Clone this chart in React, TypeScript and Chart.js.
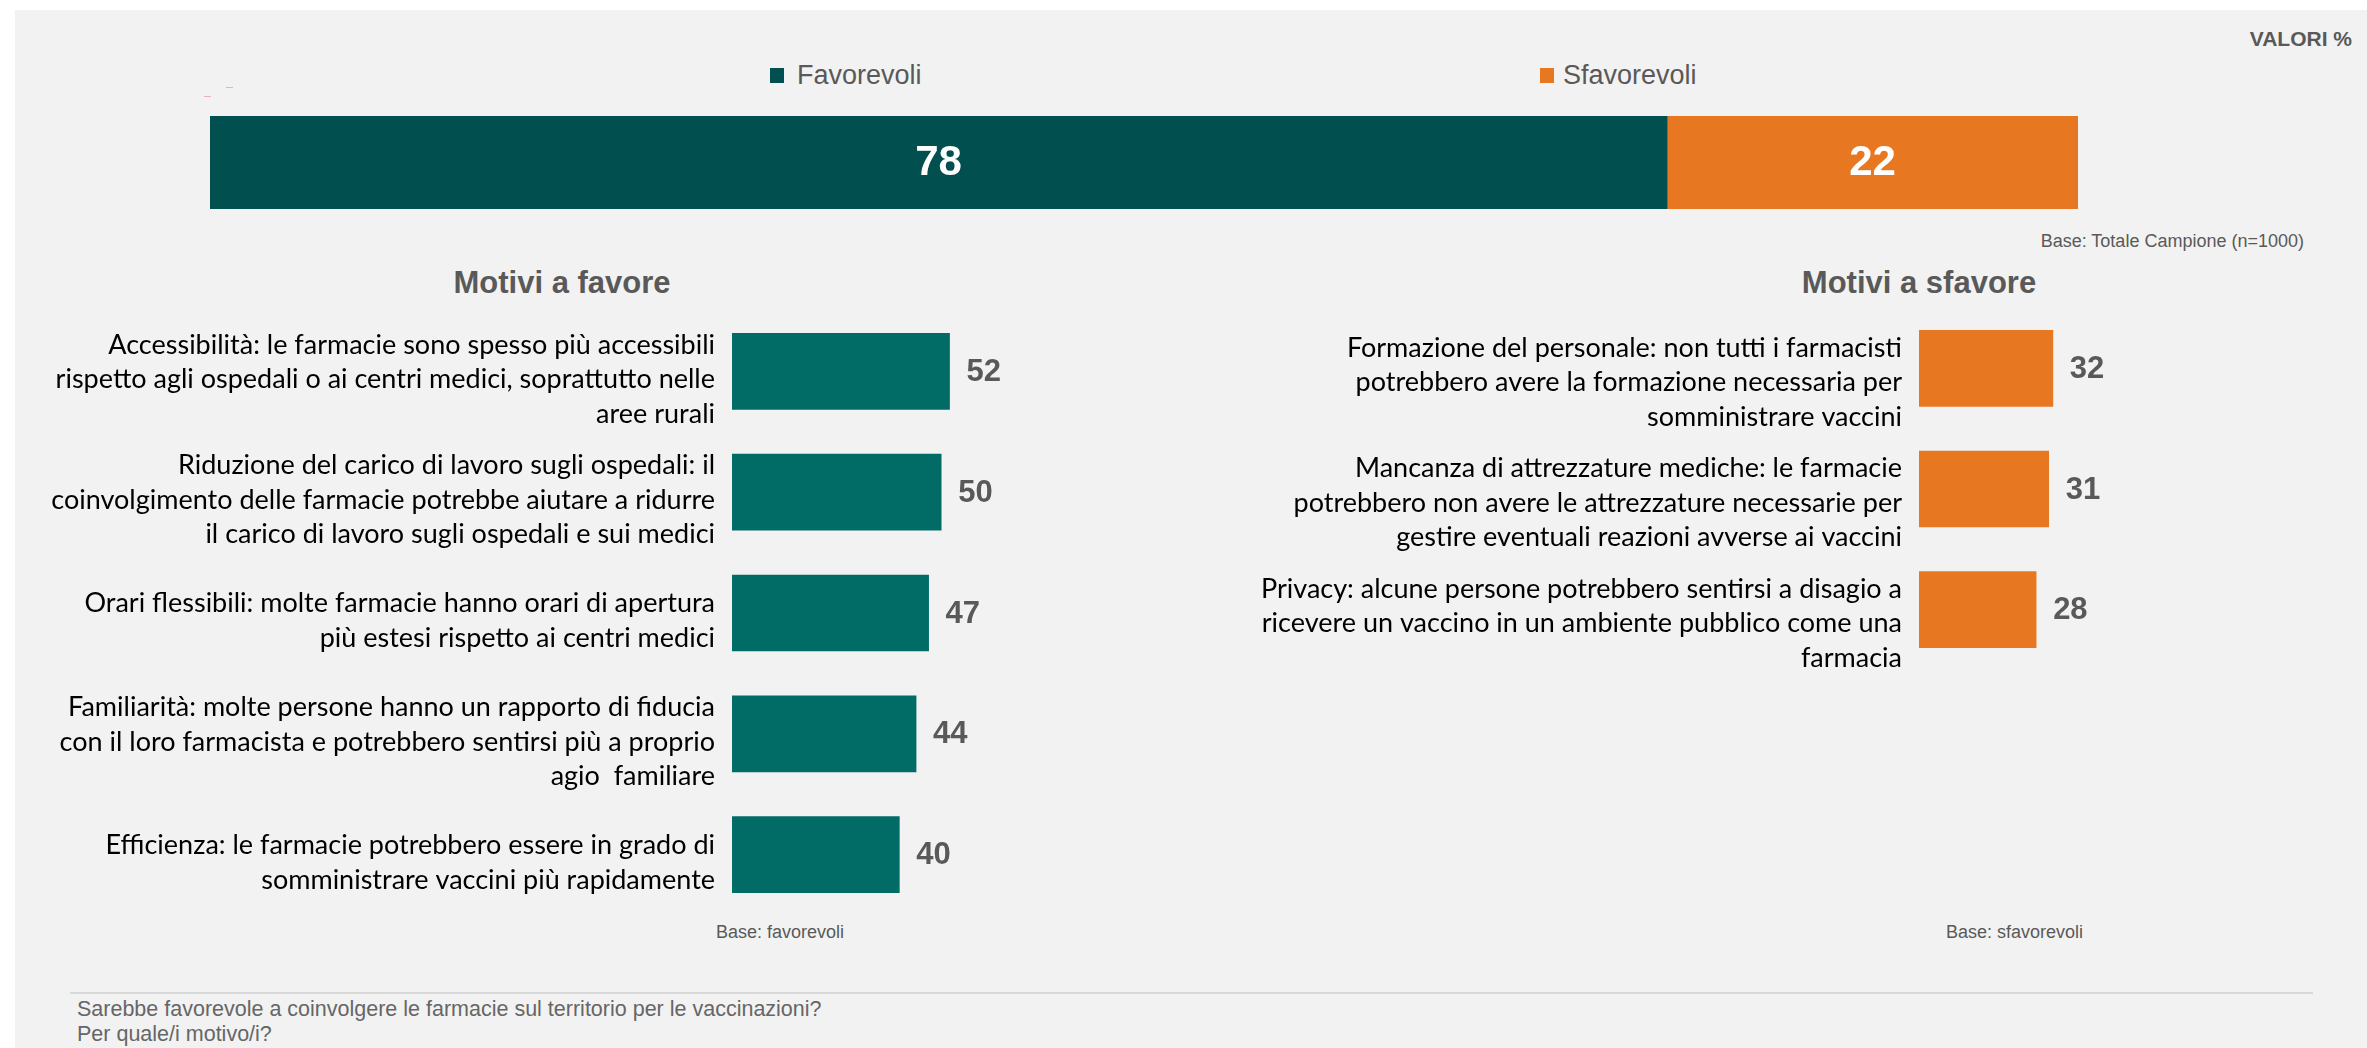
import React, { useEffect, useRef } from "react";
import { Chart, registerables } from "chart.js";

Chart.register(...registerables);

// ---------- DATA ----------
const totalCategories = ["Totale Campione"];
const seriesNames = ["Favorevoli", "Sfavorevoli"];
const favorevoliTotal = [78];
const sfavorevoliTotal = [22];

const favorLabels = [
  ["Accessibilità: le farmacie sono spesso più accessibili", "rispetto agli ospedali o ai centri medici, soprattutto nelle", "aree rurali"],
  ["Riduzione del carico di lavoro sugli ospedali: il", "coinvolgimento delle farmacie potrebbe aiutare a ridurre", "il carico di lavoro sugli ospedali e sui medici"],
  ["Orari flessibili: molte farmacie hanno orari di apertura", "più estesi rispetto ai centri medici"],
  ["Familiarità: molte persone hanno un rapporto di fiducia", "con il loro farmacista e potrebbero sentirsi più a proprio", "agio  familiare"],
  ["Efficienza: le farmacie potrebbero essere in grado di", "somministrare vaccini più rapidamente"],
];
const favorValues = [52, 50, 47, 44, 40];

const sfavorLabels = [
  ["Formazione del personale: non tutti i farmacisti", "potrebbero avere la formazione necessaria per", "somministrare vaccini"],
  ["Mancanza di attrezzature mediche: le farmacie", "potrebbero non avere le attrezzature necessarie per", "gestire eventuali reazioni avverse ai vaccini"],
  ["Privacy: alcune persone potrebbero sentirsi a disagio a", "ricevere un vaccino in un ambiente pubblico come una", "farmacia"],
];
const sfavorValues = [32, 31, 28];

const sideAxisMax = 60;

// ---------- STYLE ----------
const DARK_GREEN = "#014f4f";
const TEAL = "#016b66";
const ORANGE = "#e87722";
const GRAY_TEXT = "#595959";
const SANS = "'Liberation Sans', Arial, sans-serif";
const LABEL_FONT = "Lato";

function insideLabels() {
  return {
    id: "insideLabels",
    afterDatasetsDraw(chart: any) {
      const ctx = chart.ctx;
      ctx.save();
      ctx.font = `bold 42px ${SANS}`;
      ctx.fillStyle = "#ffffff";
      ctx.textAlign = "center";
      ctx.textBaseline = "middle";
      chart.data.datasets.forEach((ds: any, di: number) => {
        const meta = chart.getDatasetMeta(di);
        meta.data.forEach((bar: any, i: number) => {
          const x = (bar.x + bar.base) / 2;
          ctx.fillText(String(ds.data[i]), x, bar.y + 1);
        });
      });
      ctx.restore();
    },
  };
}

function endLabels() {
  return {
    id: "endLabels",
    afterDatasetsDraw(chart: any) {
      const ctx = chart.ctx;
      ctx.save();
      ctx.font = `bold 31px ${SANS}`;
      ctx.fillStyle = GRAY_TEXT;
      ctx.textAlign = "left";
      ctx.textBaseline = "middle";
      chart.data.datasets.forEach((ds: any, di: number) => {
        const meta = chart.getDatasetMeta(di);
        meta.data.forEach((bar: any, i: number) => {
          ctx.fillText(String(ds.data[i]), bar.x + 17, bar.y + 1);
        });
      });
      ctx.restore();
    },
  };
}

function ChartCanvas({ config, left, top, width, height }: any) {
  const ref = useRef<HTMLCanvasElement>(null);
  useEffect(() => {
    if (!ref.current) return;
    const chart = new Chart(ref.current, config());
    return () => chart.destroy();
  }, []);
  return (
    <canvas
      ref={ref}
      width={width}
      height={height}
      style={{ position: "absolute", left, top, width, height }}
    />
  );
}

function sideConfig(labels: string[][], values: number[], color: string, axisWidth: number, labelOffset: number) {
  return () => ({
    type: "bar",
    data: {
      labels,
      datasets: [
        {
          label: "values",
          data: values,
          backgroundColor: color,
          borderWidth: 0,
          barThickness: 76,
        },
      ],
    },
    options: {
      animation: false,
      responsive: false,
      indexAxis: "y",
      layout: { padding: { left: 0, right: 80, top: 0, bottom: 0 } },
      plugins: { legend: { display: false }, tooltip: { enabled: false } },
      scales: {
        x: { display: false, min: 0, max: sideAxisMax },
        y: {
          grid: { display: false, drawTicks: false },
          border: { display: false },
          ticks: {
            color: "#000000",
            padding: 17,
            labelOffset,
            font: { family: LABEL_FONT, size: 27, lineHeight: 34.5 / 27 },
          },
          afterFit(scale: any) {
            scale.width = axisWidth;
            scale.paddingTop = 0;
            scale.paddingBottom = 0;
          },
        },
      },
    },
    plugins: [endLabels()],
  });
}

function topConfig() {
  return {
    type: "bar",
    data: {
      labels: totalCategories,
      datasets: [
        { label: seriesNames[0], data: favorevoliTotal, backgroundColor: DARK_GREEN, borderWidth: 0, barPercentage: 1, categoryPercentage: 1 },
        { label: seriesNames[1], data: sfavorevoliTotal, backgroundColor: ORANGE, borderWidth: 0, barPercentage: 1, categoryPercentage: 1 },
      ],
    },
    options: {
      animation: false,
      responsive: false,
      indexAxis: "y",
      layout: { padding: 0 },
      plugins: { legend: { display: false }, tooltip: { enabled: false } },
      scales: {
        x: { display: false, stacked: true, min: 0, max: 100 },
        y: { display: false, stacked: true },
      },
    },
    plugins: [insideLabels()],
  };
}

const abs = (left: number, top: number, extra: any = {}) => ({
  position: "absolute" as const,
  left,
  top,
  whiteSpace: "nowrap" as const,
  ...extra,
});

export default function App() {
  return (
    <div style={{ position: "absolute", left: 0, top: 0, width: 2367, height: 1048, background: "#ffffff", overflow: "hidden", fontFamily: SANS }}>
      <div style={{ position: "absolute", left: 15, top: 10, width: 2352, height: 1038, background: "#f2f2f2" }} />

      {/* tiny artefacts */}
      <div style={{ position: "absolute", left: 226, top: 87, width: 7, height: 1, background: "#e8b4b0" }} />
      <div style={{ position: "absolute", left: 204, top: 96, width: 7, height: 1, background: "#e8b4b0" }} />

      <div style={abs(2352, 39, { transform: "translate(-100%,-50%)", fontWeight: "bold", fontSize: 21, color: GRAY_TEXT })}>VALORI %</div>

      {/* legend */}
      <div style={{ position: "absolute", left: 770, top: 68, width: 14, height: 15, background: DARK_GREEN }} />
      <div style={abs(797, 75, { transform: "translateY(-50%)", fontSize: 27, color: GRAY_TEXT })}>{seriesNames[0]}</div>
      <div style={{ position: "absolute", left: 1540, top: 68, width: 14, height: 15, background: ORANGE }} />
      <div style={abs(1563, 75, { transform: "translateY(-50%)", fontSize: 27, color: GRAY_TEXT })}>{seriesNames[1]}</div>

      <ChartCanvas config={topConfig} left={210} top={116} width={1868} height={93} />

      <div style={abs(2304, 241, { transform: "translate(-100%,-50%)", fontSize: 18, color: GRAY_TEXT })}>Base: Totale Campione (n=1000)</div>

      <div style={abs(562, 283, { transform: "translate(-50%,-50%)", fontWeight: "bold", fontSize: 31, color: GRAY_TEXT })}>Motivi a favore</div>
      <div style={abs(1919, 283, { transform: "translate(-50%,-50%)", fontWeight: "bold", fontSize: 31, color: GRAY_TEXT })}>Motivi a sfavore</div>

      <ChartCanvas config={sideConfig(favorLabels, favorValues, TEAL, 712, 8)} left={20} top={311} width={712 + 251 + 80} height={604} />
      <ChartCanvas config={sideConfig(sfavorLabels, sfavorValues, ORANGE, 679, 14)} left={1240} top={308} width={679 + 251 + 80} height={362} />

      <div style={abs(716, 932, { transform: "translateY(-50%)", fontSize: 18, color: GRAY_TEXT })}>Base: favorevoli</div>
      <div style={abs(1946, 932, { transform: "translateY(-50%)", fontSize: 18, color: GRAY_TEXT })}>Base: sfavorevoli</div>

      <div style={{ position: "absolute", left: 70, top: 992, width: 2243, height: 2, background: "#d9d9d9" }} />

      <div style={abs(77, 997, { fontSize: 21.5, lineHeight: "25px", color: "#666666" })}>
        Sarebbe favorevole a coinvolgere le farmacie sul territorio per le vaccinazioni?
        <br />
        Per quale/i motivo/i?
      </div>
    </div>
  );
}
